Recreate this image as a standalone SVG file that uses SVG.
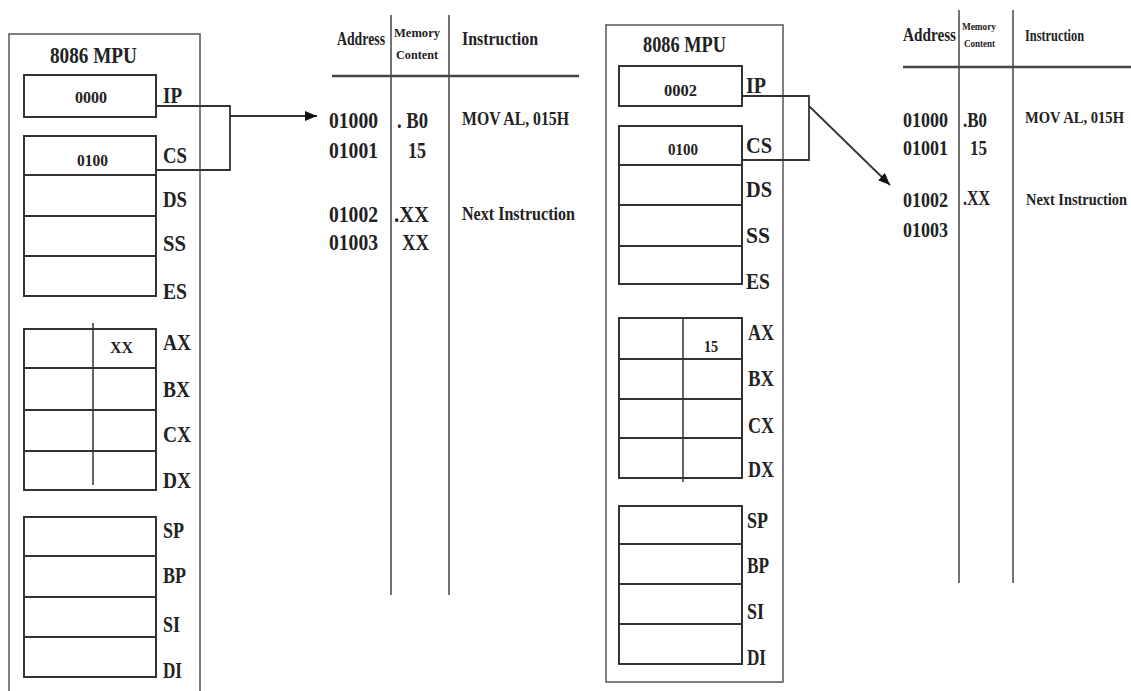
<svg xmlns="http://www.w3.org/2000/svg" width="1131" height="691" viewBox="0 0 1131 691">
<style>
.bg{fill:#fff}
.outer{fill:none;stroke:#555;stroke-width:1.5}
.box{fill:none;stroke:#333;stroke-width:2}
.div{fill:none;stroke:#333;stroke-width:1.5}
.tline{fill:none;stroke:#444;stroke-width:1.5}
.hline{fill:none;stroke:#444;stroke-width:2.5}
.conn{fill:none;stroke:#333;stroke-width:1.8}
text{font-family:"Liberation Serif","Times New Roman",serif;font-weight:bold;fill:#222}
.lbl{font-size:23px}
.title{font-size:24px}
.val{font-size:16px}
.hdr{font-size:19px}
.sm{font-size:12px}
.big{font-size:23px}
.r-sm{font-size:10px}
.r-hdr{font-size:17px}
.r-big{font-size:22px}
</style>
<defs>
<marker id="arr" markerUnits="userSpaceOnUse" markerWidth="13" markerHeight="11" refX="12" refY="5" orient="auto">
<path d="M0,0 L12,5 L0,10 z" fill="#111"/>
</marker>
</defs>
<rect class="bg" x="0" y="0" width="1131" height="691"/>

<g id="mpu1">
<rect class="outer" x="9" y="34" width="191" height="670"/>
<text class="title" x="50" y="63" textLength="87" lengthAdjust="spacingAndGlyphs">8086 MPU</text>
<g id="mpu1-ip">
<rect class="box" x="24" y="75" width="132" height="42"/>
<text class="val" x="75" y="103" textLength="32" lengthAdjust="spacingAndGlyphs">0000</text>
<text class="lbl" x="163" y="103" textLength="19" lengthAdjust="spacingAndGlyphs">IP</text>
</g>
<g id="mpu1-seg">
<rect class="box" x="24" y="136" width="132" height="160"/>
<line class="box" x1="24" y1="175" x2="156" y2="175"/>
<line class="box" x1="24" y1="216" x2="156" y2="216"/>
<line class="box" x1="24" y1="256" x2="156" y2="256"/>
<text class="val" x="77" y="166" textLength="31" lengthAdjust="spacingAndGlyphs">0100</text>
<text class="lbl" x="163" y="163" textLength="24" lengthAdjust="spacingAndGlyphs">CS</text>
<text class="lbl" x="163" y="207" textLength="24" lengthAdjust="spacingAndGlyphs">DS</text>
<text class="lbl" x="163" y="251" textLength="23" lengthAdjust="spacingAndGlyphs">SS</text>
<text class="lbl" x="163" y="299" textLength="24" lengthAdjust="spacingAndGlyphs">ES</text>
</g>
<g id="mpu1-gen">
<rect class="box" x="24" y="329" width="132" height="161"/>
<line class="box" x1="24" y1="368" x2="156" y2="368"/>
<line class="box" x1="24" y1="410" x2="156" y2="410"/>
<line class="box" x1="24" y1="451" x2="156" y2="451"/>
<line class="div" x1="93" y1="323" x2="93" y2="485"/>
<text class="val" x="110" y="353" textLength="23" lengthAdjust="spacingAndGlyphs">XX</text>
<text class="lbl" x="163" y="350" textLength="28" lengthAdjust="spacingAndGlyphs">AX</text>
<text class="lbl" x="163" y="397" textLength="27" lengthAdjust="spacingAndGlyphs">BX</text>
<text class="lbl" x="163" y="442" textLength="28" lengthAdjust="spacingAndGlyphs">CX</text>
<text class="lbl" x="163" y="488" textLength="28" lengthAdjust="spacingAndGlyphs">DX</text>
</g>
<g id="mpu1-ptr">
<rect class="box" x="24" y="517" width="132" height="160"/>
<line class="box" x1="24" y1="556" x2="156" y2="556"/>
<line class="box" x1="24" y1="597" x2="156" y2="597"/>
<line class="box" x1="24" y1="637" x2="156" y2="637"/>
<text class="lbl" x="163" y="538" textLength="21" lengthAdjust="spacingAndGlyphs">SP</text>
<text class="lbl" x="163" y="583" textLength="23" lengthAdjust="spacingAndGlyphs">BP</text>
<text class="lbl" x="163" y="632" textLength="17" lengthAdjust="spacingAndGlyphs">SI</text>
<text class="lbl" x="163" y="678" textLength="19" lengthAdjust="spacingAndGlyphs">DI</text>
</g>
</g>

<g id="table1">
<line class="tline" x1="391" y1="15" x2="391" y2="595"/>
<line class="tline" x1="449" y1="15" x2="449" y2="595"/>
<line class="hline" x1="332" y1="76" x2="579" y2="76"/>
<text class="hdr" x="337" y="45" textLength="48" lengthAdjust="spacingAndGlyphs">Address</text>
<text class="sm" x="394" y="37" textLength="46" lengthAdjust="spacingAndGlyphs">Memory</text>
<text class="sm" x="396" y="59" textLength="42" lengthAdjust="spacingAndGlyphs">Content</text>
<text class="hdr" x="462" y="45" textLength="76" lengthAdjust="spacingAndGlyphs">Instruction</text>
<text class="big" x="329" y="128" textLength="49" lengthAdjust="spacingAndGlyphs">01000</text>
<text class="big" x="397" y="128" textLength="31" lengthAdjust="spacingAndGlyphs">. B0</text>
<text class="hdr" x="462" y="125" textLength="107" lengthAdjust="spacingAndGlyphs">MOV AL, 015H</text>
<text class="big" x="329" y="158" textLength="49" lengthAdjust="spacingAndGlyphs">01001</text>
<text class="big" x="408" y="158" textLength="18" lengthAdjust="spacingAndGlyphs">15</text>
<text class="big" x="329" y="222" textLength="49" lengthAdjust="spacingAndGlyphs">01002</text>
<text class="big" x="394" y="222" textLength="35" lengthAdjust="spacingAndGlyphs">.XX</text>
<text class="hdr" x="462" y="220" textLength="113" lengthAdjust="spacingAndGlyphs">Next Instruction</text>
<text class="big" x="329" y="250" textLength="49" lengthAdjust="spacingAndGlyphs">01003</text>
<text class="big" x="402" y="250" textLength="27" lengthAdjust="spacingAndGlyphs">XX</text>
</g>

<g id="mpu2">
<rect class="outer" x="606" y="25" width="177" height="657"/>
<text class="title" x="643" y="52" textLength="83" lengthAdjust="spacingAndGlyphs">8086 MPU</text>
<g id="mpu2-ip">
<rect class="box" x="619" y="66" width="123" height="40"/>
<text class="val" x="664" y="96" textLength="33" lengthAdjust="spacingAndGlyphs">0002</text>
<text class="lbl" x="746" y="93" textLength="20" lengthAdjust="spacingAndGlyphs">IP</text>
</g>
<g id="mpu2-seg">
<rect class="box" x="619" y="126" width="123" height="158"/>
<line class="box" x1="619" y1="165" x2="742" y2="165"/>
<line class="box" x1="619" y1="205" x2="742" y2="205"/>
<line class="box" x1="619" y1="246" x2="742" y2="246"/>
<text class="val" x="668" y="155" textLength="30" lengthAdjust="spacingAndGlyphs">0100</text>
<text class="lbl" x="746" y="153" textLength="26" lengthAdjust="spacingAndGlyphs">CS</text>
<text class="lbl" x="746" y="197" textLength="26" lengthAdjust="spacingAndGlyphs">DS</text>
<text class="lbl" x="746" y="243" textLength="24" lengthAdjust="spacingAndGlyphs">SS</text>
<text class="lbl" x="746" y="289" textLength="24" lengthAdjust="spacingAndGlyphs">ES</text>
</g>
<g id="mpu2-gen">
<rect class="box" x="619" y="318" width="123" height="160"/>
<line class="box" x1="619" y1="359" x2="742" y2="359"/>
<line class="box" x1="619" y1="399" x2="742" y2="399"/>
<line class="box" x1="619" y1="438" x2="742" y2="438"/>
<line class="div" x1="683" y1="318" x2="683" y2="482"/>
<text class="val" x="704" y="352" textLength="14" lengthAdjust="spacingAndGlyphs">15</text>
<text class="lbl" x="748" y="340" textLength="26" lengthAdjust="spacingAndGlyphs">AX</text>
<text class="lbl" x="748" y="386" textLength="26" lengthAdjust="spacingAndGlyphs">BX</text>
<text class="lbl" x="748" y="433" textLength="26" lengthAdjust="spacingAndGlyphs">CX</text>
<text class="lbl" x="748" y="477" textLength="26" lengthAdjust="spacingAndGlyphs">DX</text>
</g>
<g id="mpu2-ptr">
<rect class="box" x="619" y="506" width="123" height="158"/>
<line class="box" x1="619" y1="544" x2="742" y2="544"/>
<line class="box" x1="619" y1="584" x2="742" y2="584"/>
<line class="box" x1="619" y1="624" x2="742" y2="624"/>
<text class="lbl" x="747" y="528" textLength="21" lengthAdjust="spacingAndGlyphs">SP</text>
<text class="lbl" x="747" y="573" textLength="22" lengthAdjust="spacingAndGlyphs">BP</text>
<text class="lbl" x="747" y="619" textLength="17" lengthAdjust="spacingAndGlyphs">SI</text>
<text class="lbl" x="747" y="665" textLength="19" lengthAdjust="spacingAndGlyphs">DI</text>
</g>
</g>

<g id="table2">
<line class="tline" x1="959" y1="10" x2="959" y2="583"/>
<line class="tline" x1="1013" y1="10" x2="1013" y2="583"/>
<line class="hline" x1="903" y1="67" x2="1131" y2="67"/>
<text class="hdr" x="903" y="41" textLength="53" lengthAdjust="spacingAndGlyphs">Address</text>
<text class="r-sm" x="962" y="30" textLength="34" lengthAdjust="spacingAndGlyphs">Memory</text>
<text class="r-sm" x="964" y="47" textLength="31" lengthAdjust="spacingAndGlyphs">Content</text>
<text class="r-hdr" x="1025" y="41" textLength="59" lengthAdjust="spacingAndGlyphs">Instruction</text>
<text class="r-big" x="903" y="127" textLength="45" lengthAdjust="spacingAndGlyphs">01000</text>
<text class="r-big" x="963" y="127" textLength="24" lengthAdjust="spacingAndGlyphs">.B0</text>
<text class="r-hdr" x="1025" y="123" textLength="99" lengthAdjust="spacingAndGlyphs">MOV AL, 015H</text>
<text class="r-big" x="903" y="155" textLength="45" lengthAdjust="spacingAndGlyphs">01001</text>
<text class="r-big" x="970" y="155" textLength="17" lengthAdjust="spacingAndGlyphs">15</text>
<text class="r-big" x="903" y="207" textLength="45" lengthAdjust="spacingAndGlyphs">01002</text>
<text class="r-big" x="963" y="205" textLength="27" lengthAdjust="spacingAndGlyphs">.XX</text>
<text class="r-hdr" x="1026" y="205" textLength="101" lengthAdjust="spacingAndGlyphs">Next Instruction</text>
<text class="r-big" x="903" y="237" textLength="45" lengthAdjust="spacingAndGlyphs">01003</text>
</g>

<g id="connectors">
<polyline class="conn" points="156,106 230,106 230,170 156,170"/>
<line class="conn" x1="230" y1="116" x2="317" y2="116" marker-end="url(#arr)"/>
<polyline class="conn" points="742,96 809,96 809,160 742,160"/>
<line class="conn" x1="809" y1="106" x2="890" y2="185" marker-end="url(#arr)"/>
</g>
</svg>
